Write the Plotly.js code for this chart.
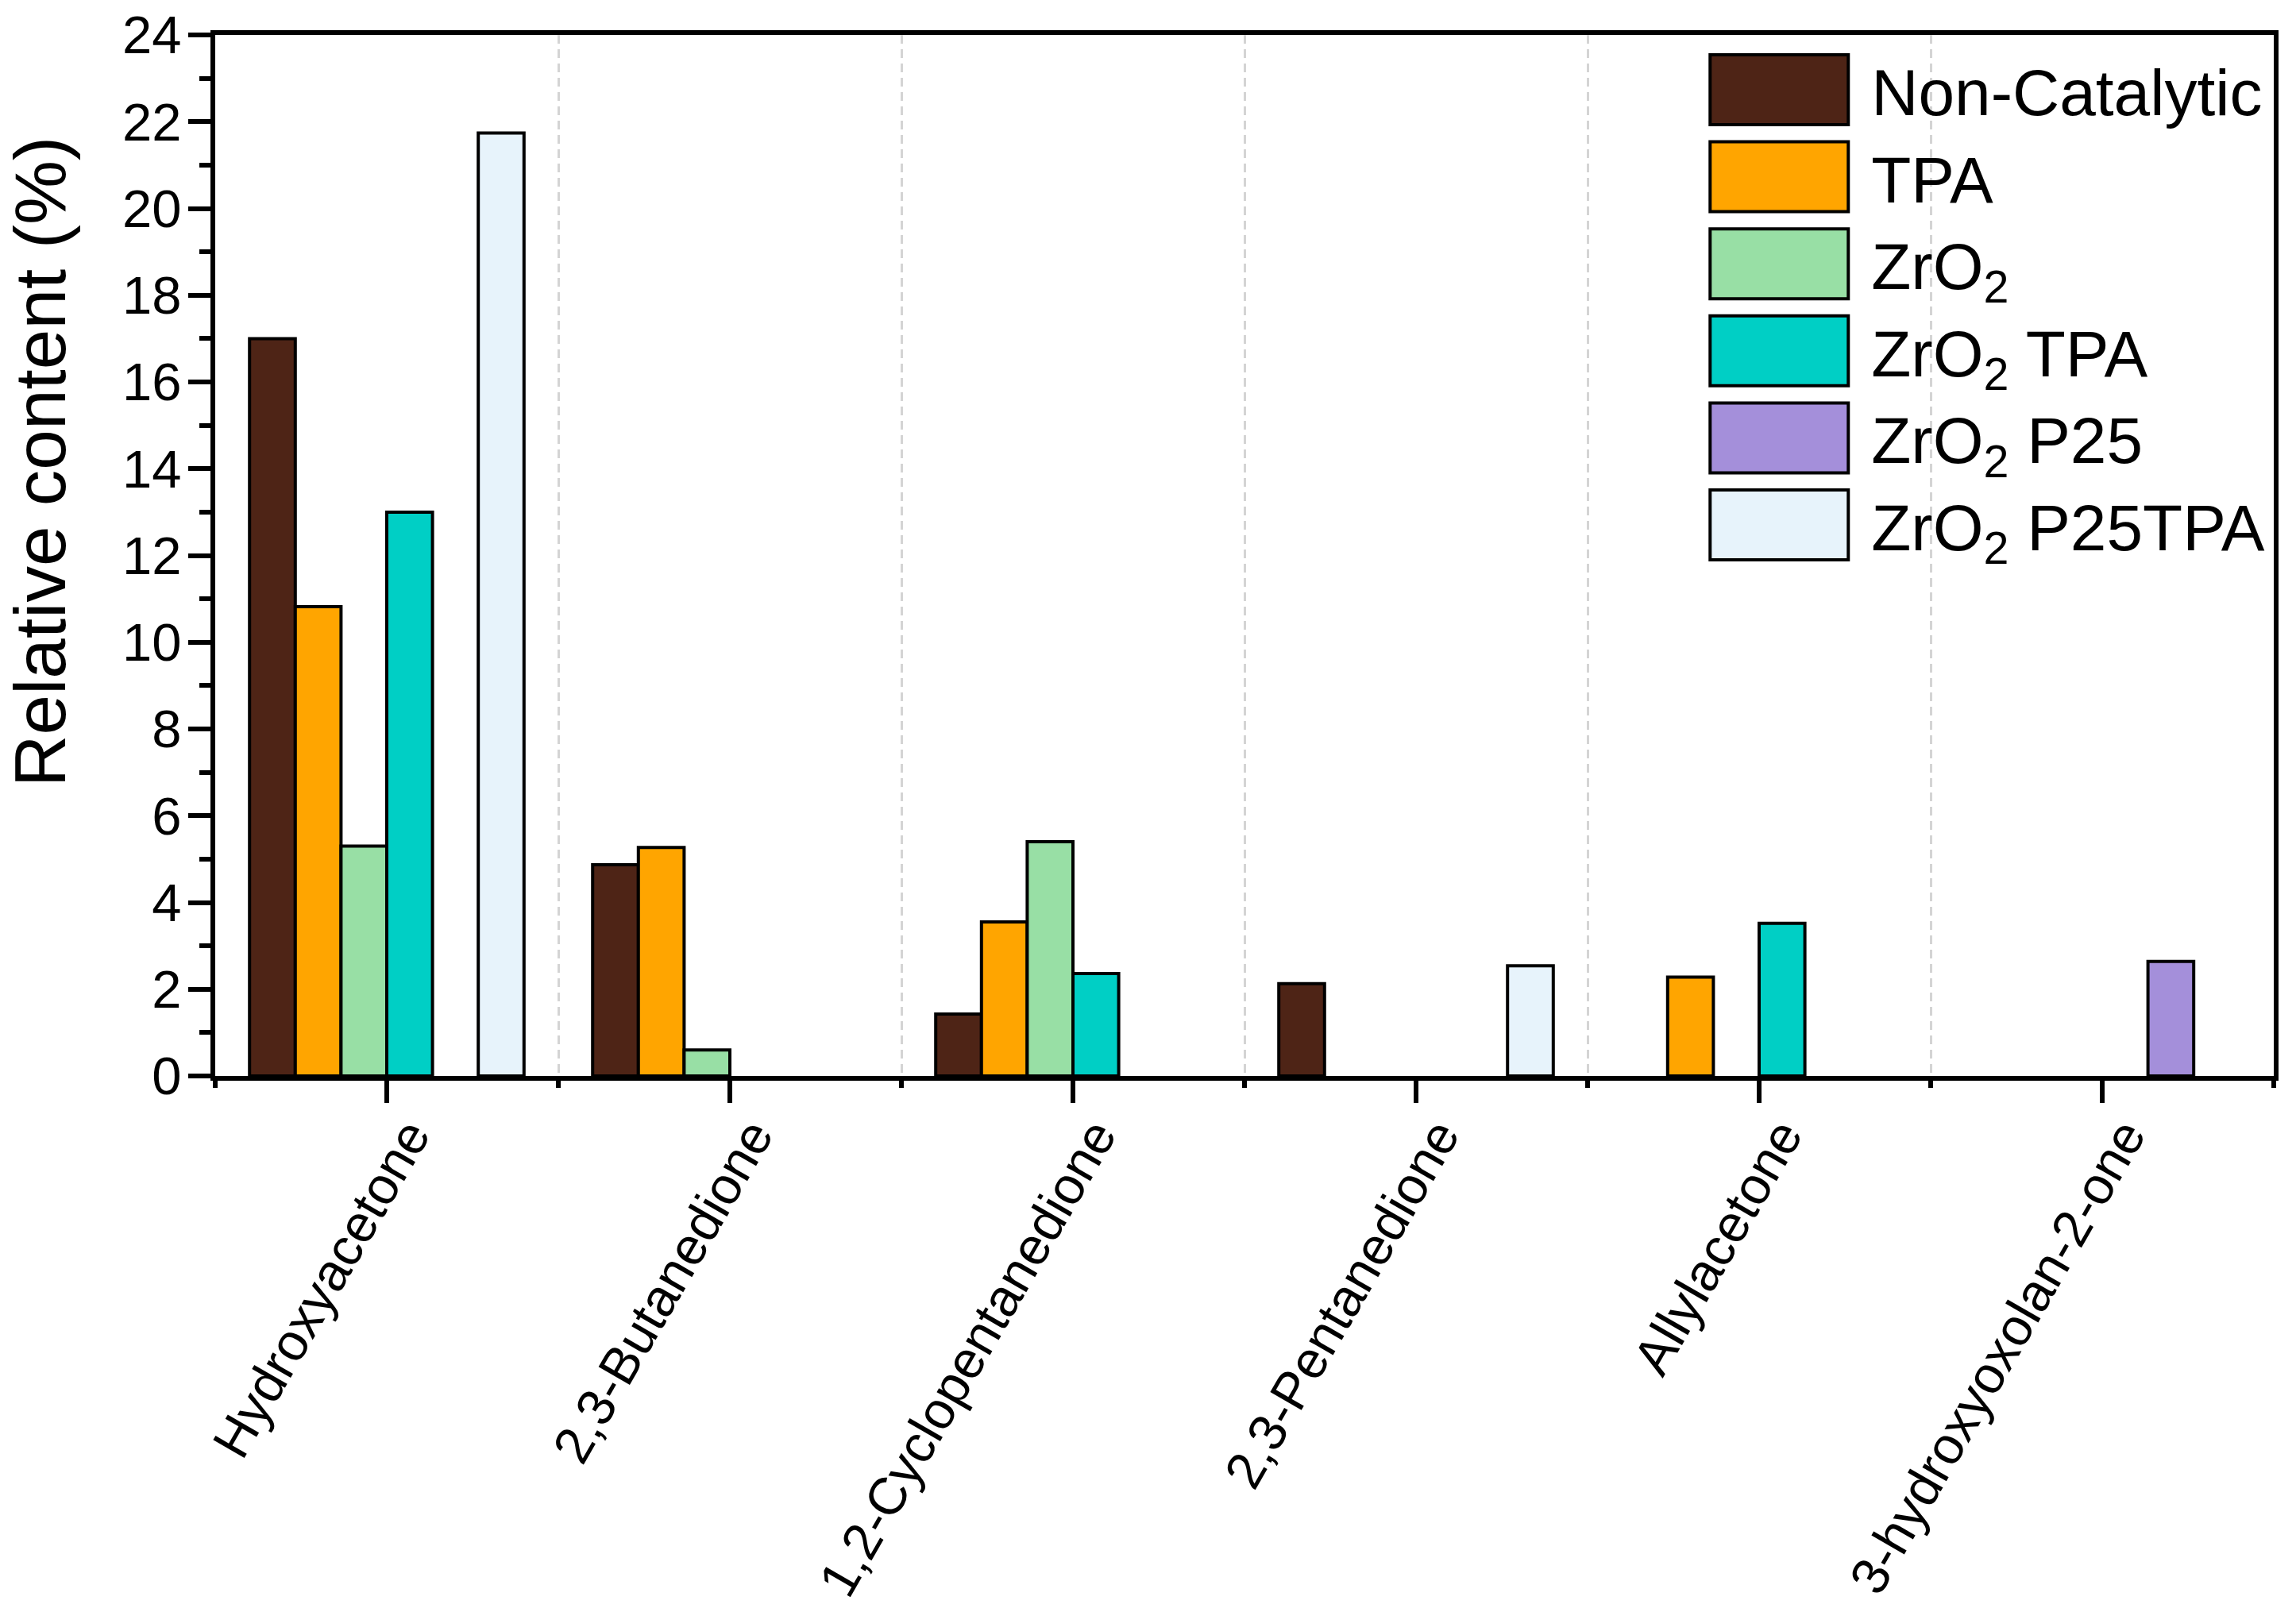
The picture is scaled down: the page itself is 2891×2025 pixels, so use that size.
<!DOCTYPE html>
<html><head><meta charset="utf-8">
<script src="https://cdn.plot.ly/plotly-3.0.1.min.js"></script>
<style>html,body{margin:0;padding:0;background:#fff;} #chart{width:2891px;height:2025px;}</style>
</head><body><div id="chart"></div>
<script>
const categories = ['Hydroxyacetone','2,3-Butanedione','1,2-Cyclopentanedione','2,3-Pentanedione','Allylacetone','3-hydroxyoxolan-2-one'];
const seriesNames = ['Non-Catalytic','TPA','ZrO<sub>2</sub>','ZrO<sub>2</sub> TPA','ZrO<sub>2</sub> P25','ZrO<sub>2</sub> P25TPA'];
const nonCatalytic = [17.0, 4.87, 1.43, 2.13, 0, 0];
const tpa = [10.82, 5.27, 3.55, 0, 2.28, 0];
const zro2 = [5.30, 0.60, 5.40, 0, 0, 0];
const zro2Tpa = [13.0, 0, 2.36, 0, 3.52, 0];
const zro2P25 = [0, 0, 0, 0, 0, 2.64];
const zro2P25Tpa = [21.74, 0, 0, 2.54, 0, 0];
const seriesColors = ['#4E2416','#FFA500','#98DFA5','#00CFC5','#A48FDA','#E7F3FB'];
const yTickVals = [0,2,4,6,8,10,12,14,16,18,20,22,24];
const yTitle = 'Relative content (%)';

const FONT = 'Liberation Sans, Arial, Helvetica, sans-serif';
const allSeries = [nonCatalytic, tpa, zro2, zro2Tpa, zro2P25, zro2P25Tpa];
const traces = allSeries.map((vals, i) => ({
  type: 'bar', name: seriesNames[i], x: categories, y: vals,
  marker: {color: seriesColors[i], line: {color: '#000', width: vals.map(v => v > 0 ? 4 : 0)}},
  hoverinfo: 'x+y+name'
}));
const boundaries = categories.map((c, i) => i - 0.5).concat([categories.length - 0.5]);
traces.push({type: 'scatter', x: [], y: [], xaxis: 'x2', yaxis: 'y', showlegend: false, hoverinfo: 'skip'});

const layout = {
  width: 2891, height: 2025,
  margin: {l: 271, r: 28, t: 44, b: 670, pad: 0},
  paper_bgcolor: '#fff', plot_bgcolor: '#fff',
  font: {family: FONT, color: '#000', size: 66},
  barmode: 'group', bargap: 0.2, bargroupgap: 0,
  showlegend: true,
  legend: {x: 0.715, xanchor: 'left', y: 0.993, yanchor: 'top', bgcolor: 'rgba(0,0,0,0)', borderwidth: 0,
           font: {family: FONT, size: 82, color: '#000'}, itemwidth: 222, tracegroupgap: 0},
  xaxis: {type: 'category', range: [-0.5, categories.length - 0.5], showline: true, linewidth: 6, linecolor: '#000',
          mirror: true, ticks: 'outside', ticklen: 28, tickwidth: 6, tickcolor: '#000', tickangle: -60,
          ticklabelshift: 28, ticklabelstandoff: -24,
          tickfont: {family: FONT, size: 66, color: '#000'}, showgrid: false, zeroline: false},
  xaxis2: {overlaying: 'x', anchor: 'y', side: 'bottom', range: [-0.5, categories.length - 0.5],
           tickmode: 'array', tickvals: boundaries, ticks: 'outside', ticklen: 14, tickwidth: 6, tickcolor: '#000',
           showticklabels: false, showgrid: true, gridcolor: '#d4d4d4', gridwidth: 3, griddash: '11px,7px',
           showline: false, zeroline: false},
  yaxis: {range: [0, 24], tickmode: 'array', tickvals: yTickVals, ticks: 'outside', ticklen: 28, tickwidth: 6, tickcolor: '#000',
          minor: {ticks: 'outside', dtick: 1, tick0: 0, ticklen: 14, tickwidth: 6, tickcolor: '#000', showgrid: false},
          showline: true, linewidth: 6, linecolor: '#000', mirror: true, ticklabelstandoff: -5,
          tickfont: {family: FONT, size: 67, color: '#000'}, showgrid: false, zeroline: false},
  annotations: [{xref: 'paper', yref: 'paper', x: -0.085, y: 0.59, text: yTitle, textangle: -90, showarrow: false,
                 xanchor: 'center', yanchor: 'middle', font: {family: FONT, size: 91, color: '#000'}}]
};

function fixLegend() {
  document.querySelectorAll('#chart .legend .legendpoints path').forEach(p => {
    p.setAttribute('d', 'M87,44H-87V-44H87Z');
    p.style.strokeWidth = '4px';
    p.style.stroke = '#000';
  });
}
Plotly.newPlot('chart', traces, layout, {displayModeBar: false, staticPlot: true}).then(gd => {
  fixLegend();
  gd.on('plotly_afterplot', fixLegend);
});
</script></body></html>
